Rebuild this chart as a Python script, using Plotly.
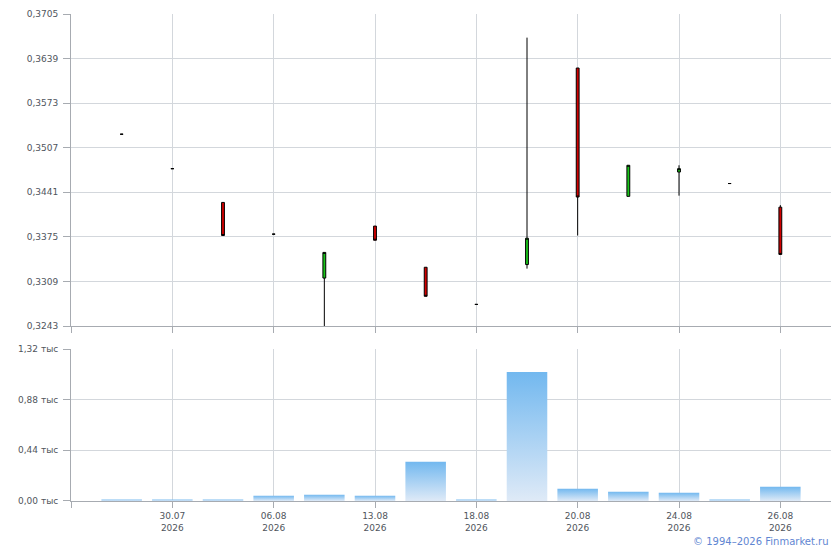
import plotly.graph_objects as go
from plotly.subplots import make_subplots

# trading days (category index on x), only every second one is labelled
dates = ["29.07", "30.07", "05.08", "06.08", "12.08", "13.08", "14.08",
         "18.08", "19.08", "20.08", "21.08", "24.08", "25.08", "26.08"]
year = "2026"

open_ = [0.3527, 0.3476, 0.3426, 0.3379, 0.3314, 0.3391, 0.3330,
         0.3275, 0.3334, 0.3625, 0.3435, 0.3471, 0.3454, 0.3419]
high = [0.3527, 0.3476, 0.3426, 0.3379, 0.3352, 0.3391, 0.3330,
        0.3275, 0.3670, 0.3625, 0.3481, 0.3481, 0.3454, 0.3422]
low = [0.3527, 0.3476, 0.3377, 0.3379, 0.3243, 0.3370, 0.3287,
       0.3275, 0.3328, 0.3377, 0.3435, 0.3436, 0.3454, 0.3349]
close = [0.3527, 0.3476, 0.3377, 0.3379, 0.3352, 0.3370, 0.3287,
         0.3275, 0.3373, 0.3434, 0.3481, 0.3476, 0.3454, 0.3349]

volume = [14, 14, 14, 46, 55, 46, 341, 14, 1120, 107, 81, 72, 14, 124]

price_ticks = [0.3243, 0.3309, 0.3375, 0.3441, 0.3507, 0.3573, 0.3639, 0.3705]
vol_ticks = [0, 440, 880, 1320]

idx = list(range(len(dates)))
label_idx = [i for i in idx if i % 2 == 1]

grid = "#d3d7dc"
axis_col = "#a7abb1"
txt = "#4f555c"
font = dict(family="DejaVu Sans", size=9, color=txt)

fig = make_subplots(rows=2, cols=1)

fig.add_trace(go.Candlestick(
    x=idx, open=open_, high=high, low=low, close=close,
    increasing=dict(fillcolor="#19c419", line=dict(color="#000000", width=1)),
    decreasing=dict(fillcolor="#d20000", line=dict(color="#000000", width=1)),
    whiskerwidth=0, showlegend=False, hoverinfo="x+y"),
    row=1, col=1)

# volume bars with a vertical gradient, one filled shape per bar
half = 0.4
for i, v in zip(idx, volume):
    fig.add_trace(go.Scatter(
        x=[i - half, i + half, i + half, i - half, i - half],
        y=[0, 0, v, v, 0],
        mode="lines", fill="toself",
        line=dict(width=0, color="rgba(0,0,0,0)"),
        fillgradient=dict(type="vertical",
                          colorscale=[[0, "#dfeaf7"], [1, "#72b8ef"]]),
        showlegend=False, hoverinfo="skip"),
        row=2, col=1)

xcommon = dict(
    range=[-1, 14], showgrid=True, gridcolor=grid, gridwidth=1,
    tickmode="array", ticks="outside", ticklen=6, tickcolor=axis_col,
    showline=True, linecolor=axis_col, linewidth=1, zeroline=False,
    tickfont=font, automargin=False)

ycommon = dict(
    showgrid=True, gridcolor=grid, ticks="outside", ticklen=7, tickcolor=axis_col,
    showline=True, linecolor=axis_col, zeroline=False, tickfont=font,
    automargin=False, ticklabelstandoff=3)

fig.update_xaxes(xcommon, row=1, col=1)
fig.update_xaxes(tickvals=[-1] + label_idx, ticktext=[""] * (len(label_idx) + 1),
                 rangeslider=dict(visible=False), row=1, col=1)
fig.update_xaxes(xcommon, row=2, col=1)
fig.update_xaxes(tickvals=[-1] + label_idx,
                 ticktext=[""] + [f"{dates[i]}<br>{year}" for i in label_idx],
                 row=2, col=1)

fig.update_yaxes(ycommon, row=1, col=1)
fig.update_yaxes(
    range=[price_ticks[0], price_ticks[-1]], tickvals=price_ticks,
    ticktext=[f"{t:.4f}".replace(".", ",") for t in price_ticks],
    domain=[0.3593, 1], row=1, col=1)
fig.update_yaxes(ycommon, row=2, col=1)
fig.update_yaxes(
    range=[0, vol_ticks[-1]], tickvals=vol_ticks,
    ticktext=[f"{t / 1000:.2f}".replace(".", ",") + " тыс" for t in vol_ticks],
    domain=[0, 0.3121], row=2, col=1)

fig.update_layout(
    width=840, height=550,
    margin=dict(l=71, r=9, t=14, b=49),
    paper_bgcolor="white", plot_bgcolor="white",
    boxgap=0.92,
    font=font,
    showlegend=False,
    annotations=[dict(
        text="© 1994–2026 Finmarket.ru", xref="paper", yref="paper",
        x=1, y=-0.084, xanchor="right", yanchor="middle", showarrow=False,
        font=dict(family="DejaVu Sans", size=10, color="#5f86d2"))])

fig.write_html("out.html", config={"displayModeBar": False},
               post_script="document.body.style.margin='0';")
